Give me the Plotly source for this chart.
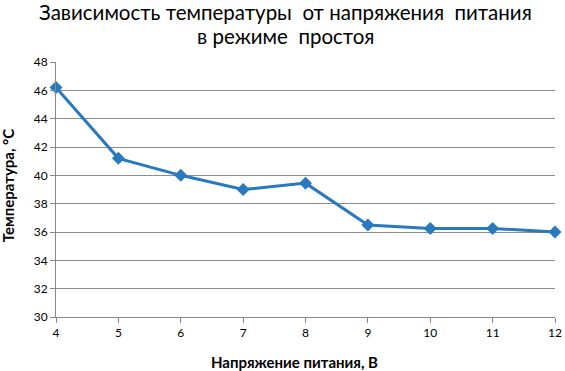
import plotly.graph_objects as go

voltage = [4, 5, 6, 7, 8, 9, 10, 11, 12]
temperature = [46.2, 41.2, 40.0, 39.0, 39.45, 36.5, 36.25, 36.25, 36.0]
y_ticks = [30, 32, 34, 36, 38, 40, 42, 44, 46, 48]

title_lines = ["Зависимость температуры  от напряжения  питания", "в режиме  простоя"]
x_title = "Напряжение питания, В"
y_title = "Температура, °С"

fig = go.Figure()
fig.add_trace(go.Scatter(
    x=voltage, y=temperature, mode="lines+markers",
    line=dict(color="#2879bd", width=3),
    marker=dict(symbol="diamond", size=10, color="#2879bd"),
    cliponaxis=False,
))

font_family = "Lato, 'Open Sans', sans-serif"
fig.update_layout(
    width=565, height=371,
    margin=dict(l=56, r=10, t=62, b=54, autoexpand=False),
    paper_bgcolor="white", plot_bgcolor="white",
    showlegend=False,
    font=dict(family=font_family, color="black"),
    xaxis=dict(
        range=[4, 12], tickvals=voltage, showgrid=False,
        showline=True, linecolor="#888888", linewidth=1,
        ticks="outside", ticklen=5, tickcolor="#888888",
        tickfont=dict(size=12), zeroline=False, automargin=False,
    ),
    yaxis=dict(
        range=[30, 48], tickvals=y_ticks, showgrid=True,
        gridcolor="#8c8c8c", gridwidth=1,
        showline=True, linecolor="#888888", linewidth=1,
        ticks="outside", ticklen=5, tickcolor="#888888",
        tickfont=dict(size=12), zeroline=False, automargin=False,
    ),
    annotations=[
        dict(text=title_lines[0], xref="paper", yref="paper", x=0.459, y=1.198,
             xanchor="center", yanchor="middle", showarrow=False,
             font=dict(size=20.5)),
        dict(text=title_lines[1], xref="paper", yref="paper", x=0.459, y=1.1,
             xanchor="center", yanchor="middle", showarrow=False,
             font=dict(size=20.5)),
        dict(text="<b>" + x_title + "</b>", xref="paper", yref="paper", x=0.477, y=-0.175,
             xanchor="center", yanchor="middle", showarrow=False,
             font=dict(size=15)),
        dict(text="<b>" + y_title + "</b>", xref="paper", yref="paper", x=-0.097, y=0.515,
             xanchor="center", yanchor="middle", showarrow=False, textangle=-90,
             font=dict(size=15)),
    ],
)

fig.write_html("out.html", config={"displayModeBar": False},
               post_script="document.body.style.margin='0';document.body.style.overflow='hidden';")
